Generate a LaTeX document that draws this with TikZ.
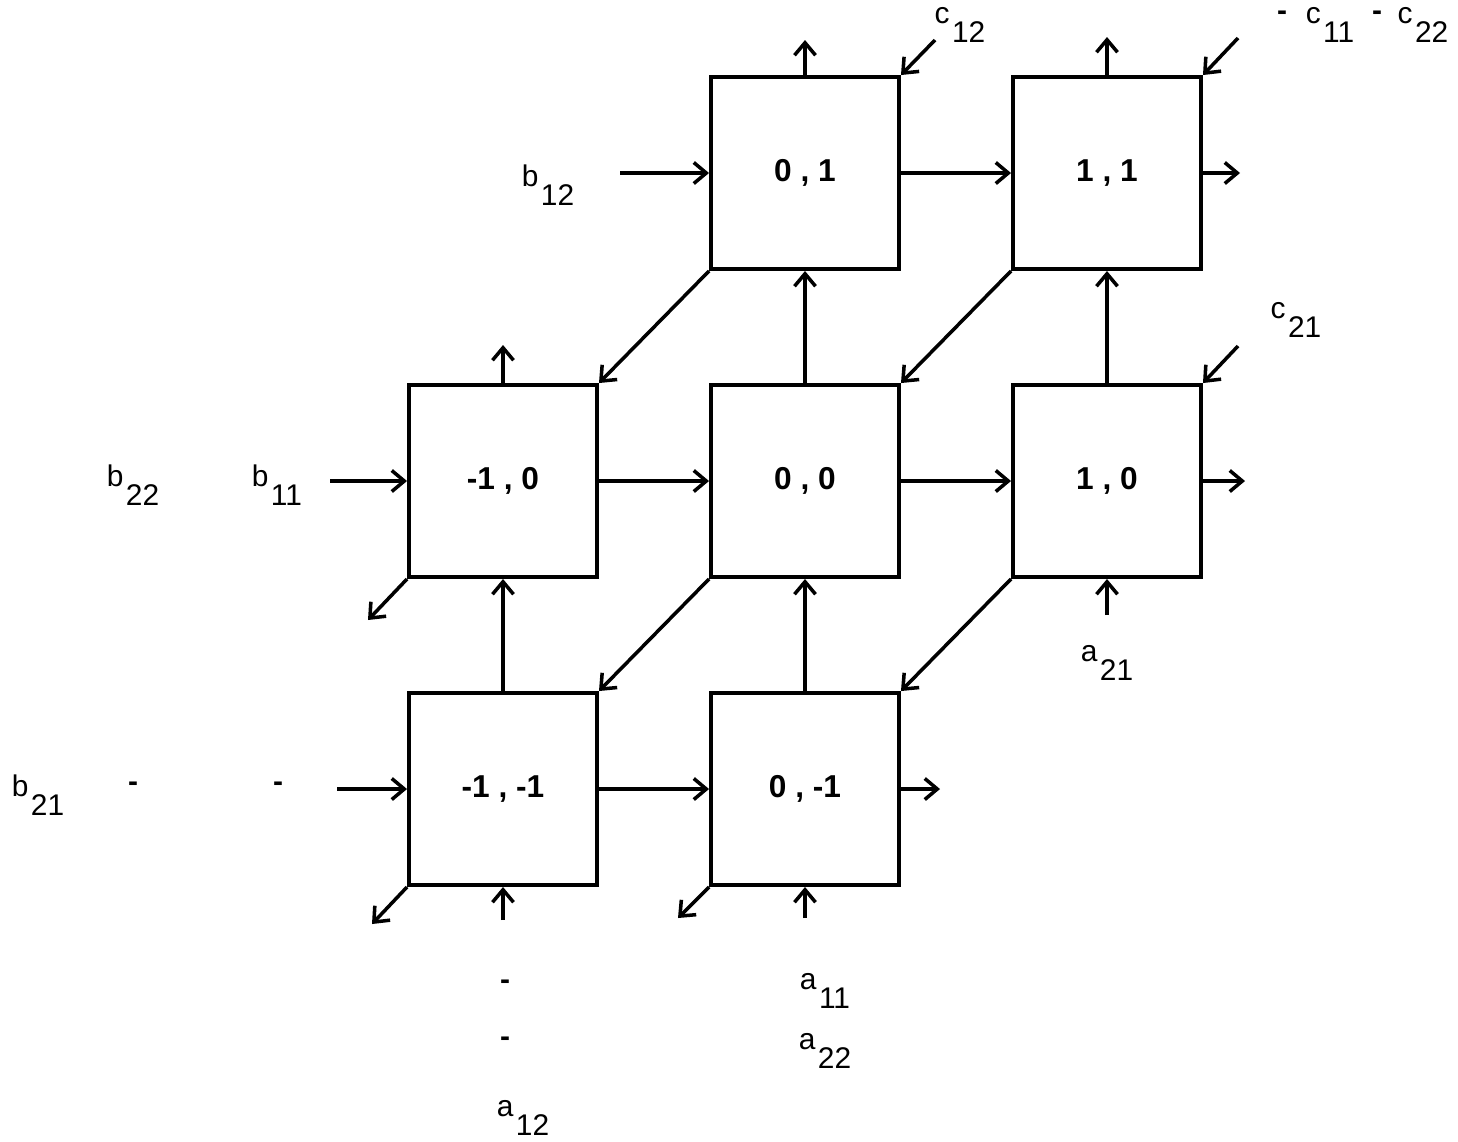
\documentclass[tikz,border=0pt]{standalone}
\usepackage{fontspec}
\setmainfont{Liberation Sans}
\usetikzlibrary{arrows.meta}
\newcommand{\vlab}[2]{\raisebox{0.62em}{#1}\kern0.08em#2}

\begin{document}
\begin{tikzpicture}[
  x=0.01cm,y=-0.01cm,
  cell/.style={draw,line width=1.1pt,minimum width=1.88cm,minimum height=1.92cm,
               inner sep=0pt,font=\fontsize{9}{10}\selectfont\bfseries},
  lab/.style={anchor=base,inner sep=0pt,font=\fontsize{8.5}{10}\selectfont},
  dsh/.style={inner sep=0pt,font=\fontsize{8.5}{10}\selectfont\bfseries},
  arr/.style={-{Straight Barb[length=1.25mm,width=2.1mm]},line width=1pt}
]
\useasboundingbox (0,0) rectangle (1458,1141);
% cells (i,j)
\node[cell] (n01)   at (805,173)  {0 , 1};
\node[cell] (n11)   at (1107,173) {1 , 1};
\node[cell] (nm10)  at (503,481)  {-1 , 0};
\node[cell] (n00)   at (805,481)  {0 , 0};
\node[cell] (n10)   at (1107,481) {1 , 0};
\node[cell] (nm1m1) at (503,789)  {-1 , -1};
\node[cell] (n0m1)  at (805,789)  {0 , -1};
% free ends
\coordinate (bin1) at (620,173);  \coordinate (bin0) at (330,481);  \coordinate (bin2) at (337,789);
\coordinate (bout1) at (1240,173); \coordinate (bout0) at (1245,481); \coordinate (bout2) at (940,789);
\coordinate (up01) at (805,40);   \coordinate (up11) at (1107,37);  \coordinate (upm10) at (503,345);
\coordinate (ain1) at (503,920);  \coordinate (ain2) at (805,918);  \coordinate (ain0) at (1107,615);
\coordinate (cin01) at (935,40);  \coordinate (cin11) at (1238,38); \coordinate (cin10) at (1238,346);
\coordinate (cout1) at (368,620); \coordinate (cout2) at (372,924); \coordinate (cout3) at (678,918);
% b stream, left to right
\draw[arr] (bin1)--(n01.west); \draw[arr] (n01.east)--(n11.west); \draw[arr] (n11.east)--(bout1);
\draw[arr] (bin0)--(nm10.west); \draw[arr] (nm10.east)--(n00.west);
\draw[arr] (n00.east)--(n10.west); \draw[arr] (n10.east)--(bout0);
\draw[arr] (bin2)--(nm1m1.west); \draw[arr] (nm1m1.east)--(n0m1.west); \draw[arr] (n0m1.east)--(bout2);
% a stream, upwards
\draw[arr] (ain1)--(nm1m1.south); \draw[arr] (nm1m1.north)--(nm10.south); \draw[arr] (nm10.north)--(upm10);
\draw[arr] (ain2)--(n0m1.south); \draw[arr] (n0m1.north)--(n00.south);
\draw[arr] (n00.north)--(n01.south); \draw[arr] (n01.north)--(up01);
\draw[arr] (ain0)--(n10.south); \draw[arr] (n10.north)--(n11.south); \draw[arr] (n11.north)--(up11);
% c stream, diagonal
\draw[arr] (cin01)--(n01.north east); \draw[arr] (n01.south west)--(nm10.north east);
\draw[arr] (nm10.south west)--(cout1);
\draw[arr] (cin11)--(n11.north east); \draw[arr] (n11.south west)--(n00.north east);
\draw[arr] (n00.south west)--(nm1m1.north east); \draw[arr] (nm1m1.south west)--(cout2);
\draw[arr] (cin10)--(n10.north east); \draw[arr] (n10.south west)--(n0m1.north east);
\draw[arr] (n0m1.south west)--(cout3);
% labels
\node[lab] (c12) at (960,42) {\vlab{c}{12}};
\node[dsh] (d5) at (1282,16) {-};
\node[lab] (c11) at (1330,42) {\vlab{c}{11}};
\node[dsh] (d6) at (1377,16) {-};
\node[lab] (c22) at (1423,42) {\vlab{c}{22}};
\node[lab] (b12) at (548,205) {\vlab{b}{12}};
\node[lab] (c21) at (1296,337) {\vlab{c}{21}};
\node[lab] (b22) at (133,505) {\vlab{b}{22}};
\node[lab] (b11) at (277,505) {\vlab{b}{11}};
\node[lab] (a21) at (1107,680) {\vlab{a}{21}};
\node[lab] (b21) at (38,815) {\vlab{b}{21}};
\node[dsh] (d1) at (133,787) {-};
\node[dsh] (d2) at (278,787) {-};
\node[dsh] (d3) at (505,985) {-};
\node[lab] (a11) at (825,1008) {\vlab{a}{11}};
\node[dsh] (d4) at (505,1042) {-};
\node[lab] (a22) at (825,1068) {\vlab{a}{22}};
\node[lab] (a12) at (523,1135) {\vlab{a}{12}};
\end{tikzpicture}
\end{document}
